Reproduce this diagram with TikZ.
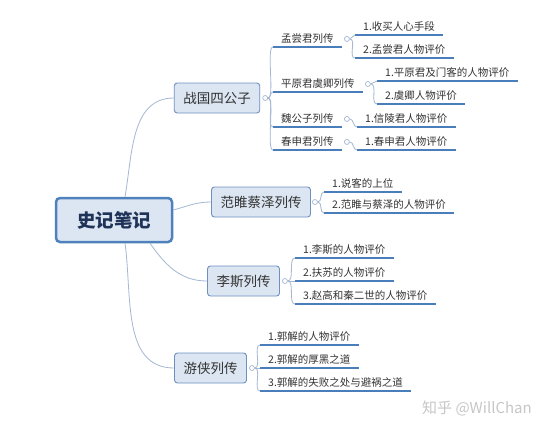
\documentclass[tikz,border=0pt]{standalone}
\usepackage{fontspec}
\setmainfont{Noto Sans CJK SC}
\usetikzlibrary{calc}
\definecolor{boxfill}{HTML}{DCE6F2}
\definecolor{boxline}{HTML}{6F8FBF}
\definecolor{rootline}{HTML}{4F81BD}
\definecolor{ulinec}{HTML}{4A7EBB}
\definecolor{connc}{HTML}{A4B7D3}
\definecolor{txtc}{HTML}{333333}
\definecolor{roottxt}{HTML}{1F3358}
\begin{document}
\begin{tikzpicture}[x=1pt,y=1pt,
  rootbox/.style={draw=rootline, line width=2.5pt, fill=boxfill, rounded corners=4pt,
    minimum width=116pt, minimum height=44pt, font=\fontsize{18.5}{20}\selectfont\bfseries, text=roottxt},
  topic/.style={draw=boxline, line width=0.9pt, fill=boxfill, rounded corners=3pt,
    minimum height=30pt, inner xsep=9pt, font=\fontsize{13.5}{15}\selectfont, text=txtc},
  sub/.style={font=\fontsize{10.5}{12}\selectfont, text=txtc, inner xsep=8pt, inner ysep=3pt, anchor=south west},
  uline/.style={draw=ulinec, line width=1.4pt},
  conn/.style={draw=connc, line width=0.8pt},
  dotc/.style={circle, draw=connc, fill=white, inner sep=0pt, minimum size=5pt, line width=0.7pt},
  br/.style={out=0, in=180, max distance=7pt}
]
\useasboundingbox[fill=white] (0,0) rectangle (554,-432);

% root and topics
\node[rootbox] (root) at (114,-220) {史记笔记};
\node[topic] (zg) at (217,-98) {战国四公子};
\node[topic] (fj) at (261,-202) {范睢蔡泽列传};
\node[topic] (ls) at (243.5,-281) {李斯列传};
\node[topic] (yx) at (210.5,-368) {游侠列传};

\draw[conn] ([xshift=11pt]root.north) to[out=80,in=180] (zg.west);
\draw[conn] ([yshift=10pt]root.east) to[out=15,in=180] (fj.west);
\draw[conn] ([xshift=36pt]root.south) to[out=-55,in=180] (ls.west);
\draw[conn] ([xshift=11pt]root.south) to[out=-82,in=180] (yx.west);

% dots of topics
\node[dotc] (zgd) at ($(zg.east)+(5,0)$) {};
\node[dotc] (fjd) at ($(fj.east)+(4,0)$) {};
\node[dotc] (lsd) at ($(ls.east)+(5,0)$) {};
\node[dotc] (yxd) at ($(yx.east)+(5,0)$) {};

% 战国四公子 group
\node[sub] (m1) at (273,-47) {孟尝君列传};
\node[sub] (m2) at (273,-92) {平原君虞卿列传};
\node[sub] (m3) at (273,-127) {魏公子列传};
\node[sub] (m4) at (273,-150) {春申君列传};
\foreach \n in {m1,m2,m3,m4}{
  \draw[uline] (\n.south west) -- (\n.south east);
  \draw[conn] (zgd.east) to[br] (\n.south west);
}
\node[dotc] (m1d) at ($(m1.east)+(5,0)$) {};
\node[dotc] (m2d) at ($(m2.east)+(5,0)$) {};
\node[dotc] (m3d) at ($(m3.east)+(5,0)$) {};
\node[dotc] (m4d) at ($(m4.east)+(5,0)$) {};

\node[sub] (m1a) at (355,-35) {1.收买人心手段};
\node[sub] (m1b) at (355,-58) {2.孟尝君人物评价};
\node[sub] (m2a) at (377,-81) {1.平原君及门客的人物评价};
\node[sub] (m2b) at (377,-104) {2.虞卿人物评价};
\node[sub] (m3a) at (357,-127) {1.信陵君人物评价};
\node[sub] (m4a) at (357,-150) {1.春申君人物评价};
\foreach \n in {m1a,m1b,m2a,m2b,m3a,m4a}{
  \draw[uline] (\n.south west) -- (\n.south east);
}
\draw[conn] (m1d.east) to[br] (m1a.south west);
\draw[conn] (m1d.east) to[br] (m1b.south west);
\draw[conn] (m2d.east) to[br] (m2a.south west);
\draw[conn] (m2d.east) to[br] (m2b.south west);
\draw[conn] (m3d.east) to[br] (m3a.south west);
\draw[conn] (m4d.east) to[br] (m4a.south west);

% 范睢蔡泽列传 group
\node[sub] (f1) at (324,-192) {1.说客的上位};
\node[sub] (f2) at (324,-213) {2.范睢与蔡泽的人物评价};
% 李斯列传 group
\node[sub] (l1) at (295,-258) {1.李斯的人物评价};
\node[sub] (l2) at (295,-281) {2.扶苏的人物评价};
\node[sub] (l3) at (295,-304) {3.赵高和秦二世的人物评价};
% 游侠列传 group
\node[sub] (y1) at (260,-345) {1.郭解的人物评价};
\node[sub] (y2) at (260,-368) {2.郭解的厚黑之道};
\node[sub] (y3) at (260,-391) {3.郭解的失败之处与避祸之道};

\foreach \n in {f1,f2,l1,l2,l3,y1,y2,y3}{
  \draw[uline] (\n.south west) -- (\n.south east);
}
\foreach \n in {f1,f2}{\draw[conn] (fjd.east) to[br] (\n.south west);}
\foreach \n in {l1,l2,l3}{\draw[conn] (lsd.east) to[br] (\n.south west);}
\foreach \n in {y1,y2,y3}{\draw[conn] (yxd.east) to[br] (\n.south west);}

% watermark
\node[font=\fontsize{15}{16}\selectfont, text=black!22] (wm) at (477,-408) {知乎 @WillChan};
\end{tikzpicture}
\end{document}
